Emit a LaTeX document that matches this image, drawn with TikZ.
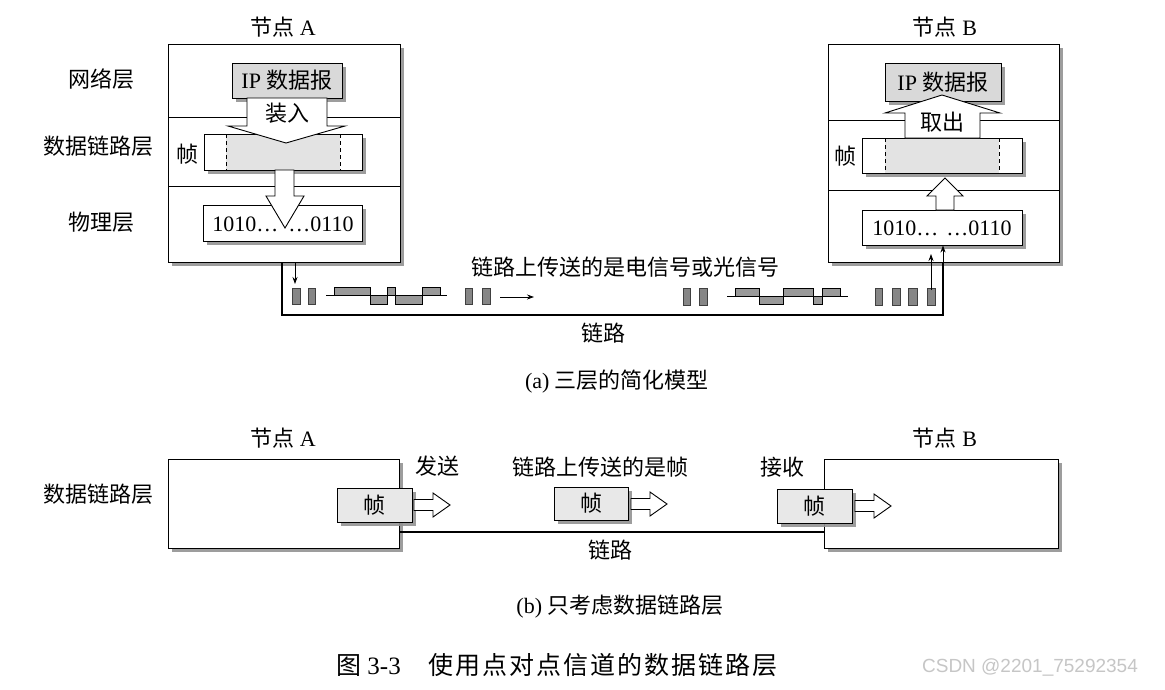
\documentclass[tikz,border=0pt]{standalone}
\usepackage{fontspec}
\setmainfont{Liberation Serif}
\newfontfamily\cjk{Noto Sans CJK SC}
\newfontfamily\cjkcap{Noto Sans CJK SC}[LetterSpace=8]
\newfontfamily\wmfont{Liberation Sans}
\usetikzlibrary{shadows,arrows.meta,fit}
\tikzset{
  txt/.style={font=\fontsize{22}{26}\selectfont, inner sep=0pt},
  box/.style={draw, line width=0.9pt, fill=white, inner sep=0pt,
    drop shadow={shadow xshift=3.5pt, shadow yshift=-3.5pt, fill=gray!85, opacity=0.9}},
  sep/.style={line width=0.8pt},
  arr/.style={draw, fill=white, line width=0.9pt, line join=miter},
  dashline/.style={line width=0.8pt, dash pattern=on 4pt off 3pt},
  link/.style={line width=2.5pt},
  thinarr/.style={line width=0.8pt, -{Stealth[length=7pt,width=5pt]}},
  pulse/.style={fill=gray!95, draw=gray!50!black, line width=0.4pt},
  wave/.style={fill=gray!80, draw=black, line width=0.6pt},
  harrow/.pic={\draw[fill=white, line width=0.9pt] (0,-5.5) -- (19,-5.5) -- (19,-12) -- (36,0) -- (19,12) -- (19,5.5) -- (0,5.5) -- cycle;}
}
\begin{document}
\begin{tikzpicture}[x=1pt,y=-1pt]
\useasboundingbox (0,0) rectangle (1165,689);
\fill[white] (0,0) rectangle (1165,689);

% ---------------- part (a) ----------------
\node[txt] (tA) at (283,27) {{\cjk 节点}~A};
\node[txt] (tB) at (945,27) {{\cjk 节点}~B};
\node[txt] (lnet) at (101,79) {\cjk 网络层};
\node[txt] (ldll) at (98,146) {\cjk 数据链路层};
\node[txt] (lphy) at (101,222) {\cjk 物理层};

% node A
\node[box, fit={(168,44)(400,262)}] (A) {};
\draw[sep] (168,117) -- (400,117);
\draw[sep] (168,186) -- (400,186);
\node[box, fit={(204,134)(362,170)}] (fA) {};
\fill[gray!22] (226,135) rectangle (340,169.5);
\draw[dashline] (226,134) -- (226,170);
\draw[dashline] (340,134) -- (340,170);
\node[txt] (zhenA) at (187,154) {\cjk 帧};
\node[box, fill=gray!30, fit={(232,63)(342,98)}] (ipA) {};
\node[txt] at (ipA) {IP {\cjk 数据报}};
\draw[arr] (247,98) -- (247,126) -- (228,126) -- (286,143) -- (345,126) -- (327,126) -- (327,98) -- cycle;
\node[txt] (zr) at (287,113) {\cjk 装入};
\node[box, fit={(203,205)(362,241)}] (pA) {};
\draw[arr] (275,170) -- (275,196) -- (266,196) -- (285,228) -- (304,196) -- (294,196) -- (294,170) -- cycle;
\node[txt] (bitsA) at (283,224) {1010…\hspace{10pt}…0110};

% node B
\node[box, fit={(828,44)(1059,262)}] (B) {};
\draw[sep] (828,120) -- (1059,120);
\draw[sep] (828,190) -- (1059,190);
\node[box, fill=gray!30, fit={(885,63)(1001,101)}] (ipB) {};
\node[txt] at (ipB) {IP {\cjk 数据报}};
\node[box, fit={(862,138)(1022,173)}] (fB) {};
\fill[gray!22] (885,139) rectangle (999,172.5);
\draw[dashline] (885,138) -- (885,173);
\draw[dashline] (999,138) -- (999,173);
\node[txt] (zhenB) at (845,156) {\cjk 帧};
\draw[arr] (905,138) -- (905,113) -- (885,113) -- (942,95) -- (1000,113) -- (980,113) -- (980,138) -- cycle;
\node[txt] (qc) at (942,122) {\cjk 取出};
\node[box, fit={(862,210)(1022,245)}] (pB) {};
\draw[arr] (936,210) -- (936,196) -- (927,196) -- (945,178) -- (963,196) -- (954,196) -- (954,210) -- cycle;
\node[txt] (bitsB) at (942,228) {1010…\hspace{8pt}…0110};

% link (a)
\coordinate (la) at (282,262);
\coordinate (lb) at (943,262);
\coordinate (lc) at (282,315);
\coordinate (ld) at (943,315);
\draw[link] (la) -- (lc) -- (ld) -- (lb);
\draw[thinarr] (lb) -- (pB.south -| lb);
\coordinate (sa) at (295,262);
\coordinate (sb) at (295,284);
\draw[thinarr] (sa) -- (sb);

% pulses left
\foreach \x/\w in {292/8, 308/7, 465/7, 482/8} {\draw[pulse] (\x,288) rectangle ++(\w,16);}
\draw[line width=0.8pt] (326,295.5) -- (447,295.5);
\draw[wave] (334,287) rectangle (370,295.5);
\draw[wave] (370,295.5) rectangle (387,304);
\draw[wave] (387,287) rectangle (395,295.5);
\draw[wave] (395,295.5) rectangle (422,304);
\draw[wave] (422,287) rectangle (440,295.5);
\coordinate (ra) at (500,297);
\coordinate (rb) at (534,297);
\draw[thinarr] (ra) -- (rb);
% pulses right
\foreach \x/\w in {683/7, 699/8, 875/7, 892/8, 908/9, 927/8} {\draw[pulse] (\x,288) rectangle ++(\w,17);}
\draw[line width=0.8pt] (727,296) -- (848,296);
\draw[wave] (735,288) rectangle (759,296);
\draw[wave] (759,296) rectangle (783,304);
\draw[wave] (783,288) rectangle (813,296);
\draw[wave] (813,296) rectangle (822,304);
\draw[wave] (822,288) rectangle (840,296);
\coordinate (ua) at (931,290);
\coordinate (ub) at (931,254);
\draw[thinarr] (ua) -- (ub);

\node[txt] (sig) at (625,267) {\cjk 链路上传送的是电信号或光信号};
\node[txt] (linka) at (603,333) {\cjk 链路};
\node[txt] (capa) at (617,382) {(a) {\cjk 三层的简化模型}};

% ---------------- part (b) ----------------
\node[txt] (tA2) at (283,438) {{\cjk 节点}~A};
\node[txt] (tB2) at (945,438) {{\cjk 节点}~B};
\node[txt] (ldll2) at (98,494) {\cjk 数据链路层};
\node[box, fit={(168,459)(399,548)}] (A2) {};
\node[box, fit={(824,459)(1058,548)}] (B2) {};
\draw[link] (A2.east |- 0,532) -- (B2.west |- 0,532);

\node[box, fill=gray!18, fit={(337,488)(412,522)}] (f1) {};
\node[txt] at (f1) {\cjk 帧};
\pic at (414,505) {harrow};
\node[txt] (send) at (437,466) {\cjk 发送};

\node[box, fill=gray!18, fit={(554,487)(628,520)}] (f2) {};
\node[txt] at (f2) {\cjk 帧};
\pic at (631,504) {harrow};
\node[txt] (onlink) at (600,467) {\cjk 链路上传送的是帧};

\node[box, fill=gray!18, fit={(777,489)(852,523)}] (f3) {};
\node[txt] at (f3) {\cjk 帧};
\pic at (855,506) {harrow};
\node[txt] (recv) at (782,467) {\cjk 接收};

\node[txt] (linkb) at (610,550) {\cjk 链路};
\node[txt] (capb) at (620,607) {(b) {\cjk 只考虑数据链路层}};

% caption
\node[inner sep=0pt, font=\fontsize{25}{28}\selectfont] (cap) at (557,665)
  {{\cjk 图}~3-3\hspace{28pt}{\cjkcap 使用点对点信道的数据链路层}};
\node[inner sep=0pt, font=\wmfont\fontsize{19}{22}\selectfont, text=gray!45] (wm) at (1030,667) {CSDN @2201\_75292354};
\end{tikzpicture}
\end{document}
